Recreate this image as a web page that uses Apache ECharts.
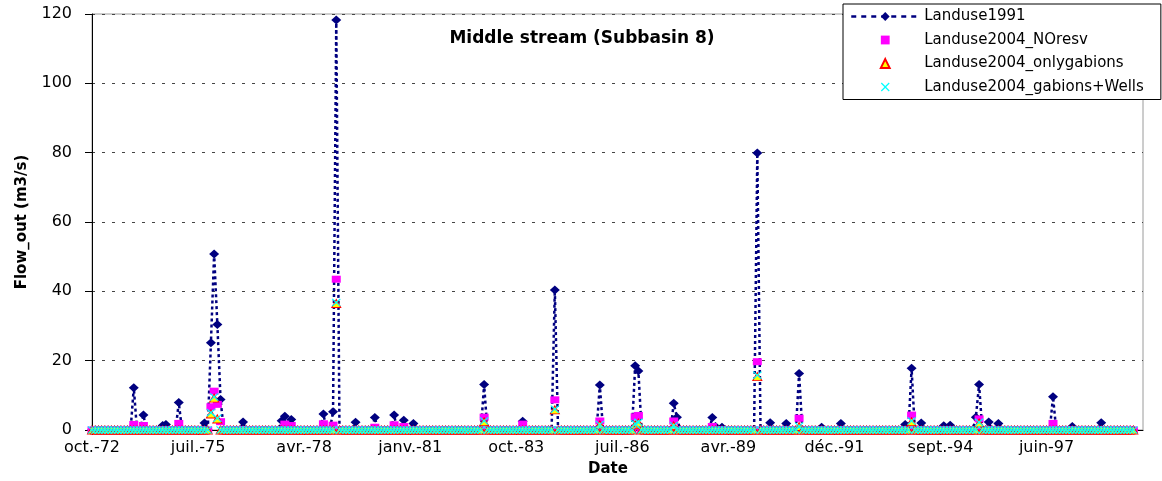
<!DOCTYPE html>
<html><head><meta charset="utf-8">
<script src="https://cdn.jsdelivr.net/npm/echarts@6.0.0/dist/echarts.min.js"></script>
<style>html,body{margin:0;padding:0;background:#fff}#chart{width:1162px;height:481px}</style>
</head><body><div id="chart"></div>
<script>
// ---- axis / category definitions ----
const firstYear = 1972, firstMonth = 10;   // first category (Oct 1972)
const axisMonthCount = 328;                 // Oct 1972 .. Jan 2000 (axis span)
const dataMonthCount = 325;                 // Oct 1972 .. Oct 1999 (data span)
const tickStep = 33;
const tickLabels = ["oct.-72","juil.-75","avr.-78","janv.-81","oct.-83","juil.-86","avr.-89","déc.-91","sept.-94","juin-97"];
const yTicks = [0, 20, 40, 60, 80, 100, 120];

// ---- series values (non-baseline months; other months read as ~0) ----
const landuse1991Dates = ["1973-11","1974-02","1974-08","1974-09","1975-01","1975-09","1975-11","1975-12","1976-01","1976-02",
  "1976-09","1977-09","1977-10","1977-11","1977-12","1978-10","1979-01","1979-02","1979-08","1980-02",
  "1980-08","1980-11","1981-02","1982-12","1983-12","1984-10","1985-12","1986-11","1986-12","1987-11",
  "1987-12","1988-11","1988-12","1989-02","1990-01","1990-05","1990-10","1991-02","1991-09","1992-03",
  "1993-11","1994-01","1994-04","1994-11","1995-01","1995-09","1995-10","1996-01","1996-04","1997-09",
  "1998-03","1998-12"];
const landuse1991Values = [12.2,4.3,1.3,1.6,7.9,2.0,25.2,50.8,30.4,8.8,
  2.3,2.7,4.0,1.5,3.0,4.6,5.3,118.3,2.2,3.6,
  4.3,2.8,1.9,13.1,2.5,40.4,13.0,18.5,17.0,7.7,
  3.7,3.6,1.0,0.8,79.9,2.1,1.9,16.3,0.8,1.9,
  1.6,17.8,2.0,1.2,1.4,3.7,13.1,2.3,1.9,9.6,
  1.0,2.1];

const noResvDates = ["1973-11","1974-02","1975-01","1975-11","1975-12","1976-01","1976-02","1977-10","1977-12","1978-10",
  "1979-01","1979-02","1980-02","1980-08","1980-11","1982-12","1983-12","1984-10","1985-12","1986-11",
  "1986-12","1987-11","1988-11","1990-01","1991-02","1994-01","1995-10","1997-09"];
const noResvValues = [1.6,1.3,1.9,6.7,11.2,7.4,2.4,1.7,1.3,1.8,
  1.4,43.5,0.8,1.5,1.0,3.7,1.7,8.7,2.6,3.8,
  4.2,2.6,1.0,19.7,3.4,4.3,3.2,1.9];

const onlyGabionsDates = ["1975-11","1975-12","1976-01","1979-02","1982-12","1984-10","1985-12","1986-11","1986-12","1987-11",
  "1990-01","1991-02","1994-01","1995-10"];
const onlyGabionsValues = [4.6,9.2,3.2,36.5,2.4,5.8,1.5,1.5,2.0,1.2,
  15.4,1.0,2.4,2.0];

const gabionsWellsDates = ["1975-11","1975-12","1976-01","1979-02","1982-12","1984-10","1985-12","1986-11","1986-12","1987-11",
  "1990-01","1991-02","1994-01","1995-10"];
const gabionsWellsValues = [5.0,9.5,3.4,36.8,2.6,6.0,1.6,1.8,2.2,1.3,
  15.8,1.1,2.6,2.2];

// ---- build categories and full series ----
const categories = [];
for (let i = 0; i < axisMonthCount; i++) {
  const t = firstYear * 12 + (firstMonth - 1) + i;
  const y = Math.floor(t / 12), m = t % 12 + 1;
  categories.push(y + "-" + (m < 10 ? "0" + m : m));
}
function buildSeries(dates, values) {
  const lookup = {};
  dates.forEach((d, i) => { lookup[d] = values[i]; });
  return categories.map((c, i) => i < dataMonthCount ? (lookup[c] !== undefined ? lookup[c] : 0) : '-');
}
const s1991 = buildSeries(landuse1991Dates, landuse1991Values);
const sNoResv = buildSeries(noResvDates, noResvValues);
const sGabions = buildSeries(onlyGabionsDates, onlyGabionsValues);
const sWells = buildSeries(gabionsWellsDates, gabionsWellsValues);

const FONT = "DejaVu Sans";
const xShape = 'path://M0,1L1,0L5,4L9,0L10,1L6,5L10,9L9,10L5,6L1,10L0,9L4,5Z';
const isTick = (i) => i % tickStep === 0 && i / tickStep < tickLabels.length;

const chart = echarts.init(document.getElementById('chart'), null, {renderer: 'canvas'});
chart.setOption({
  animation: false,
  backgroundColor: '#ffffff',
  title: {
    text: 'Middle stream (Subbasin 8)',
    left: 582, top: 30, textAlign: 'center', padding: 0,
    textStyle: {fontFamily: FONT, fontSize: 17, fontWeight: 'bold', color: '#000'}
  },
  legend: {
    orient: 'vertical', left: 843, top: 4,
    padding: [5, 17, 5, 7],
    itemWidth: 68, itemHeight: 11, itemGap: 8.5,
    backgroundColor: '#ffffff', borderColor: '#000', borderWidth: 1, borderRadius: 0,
    textStyle: {fontFamily: FONT, fontSize: 15, color: '#000'},
    data: [
      {name: 'Landuse1991', lineStyle: {type: [5, 5], width: 2.5, color: '#000080'}},
      {name: 'Landuse2004_NOresv'},
      {name: 'Landuse2004_onlygabions'},
      {name: 'Landuse2004_gabions+Wells'}
    ]
  },
  grid: {left: 92, right: 19, top: 14, bottom: 51, show: true, borderColor: '#9a9a9a', borderWidth: 1, containLabel: false, outerBoundsMode: 'none'},
  xAxis: {
    type: 'category', data: categories, boundaryGap: false,
    name: 'Date', nameLocation: 'middle', nameGap: 32,
    nameTextStyle: {fontFamily: FONT, fontSize: 15, fontWeight: 'bold', color: '#000', padding: [0, 19, 0, 0]},
    axisLine: {lineStyle: {color: '#000', width: 1}},
    axisTick: {show: true, interval: (i) => isTick(i), length: 5, inside: false, lineStyle: {color: '#000'}},
    axisLabel: {interval: (i) => isTick(i), formatter: (v, i) => tickLabels[i / tickStep], margin: 10,
      fontFamily: FONT, fontSize: 16, color: '#000', hideOverlap: false},
    splitLine: {show: false}
  },
  yAxis: {
    type: 'value', min: yTicks[0], max: yTicks[yTicks.length - 1], interval: yTicks[1] - yTicks[0],
    name: 'Flow_out (m3/s)', nameLocation: 'middle', nameGap: 62,
    nameTextStyle: {fontFamily: FONT, fontSize: 15, fontWeight: 'bold', color: '#000'},
    axisLine: {show: true, lineStyle: {color: '#000', width: 1}},
    axisTick: {show: true, length: 7, lineStyle: {color: '#000'}},
    axisLabel: {margin: 20, fontFamily: FONT, fontSize: 16, color: '#000'},
    splitLine: {show: true, lineStyle: {color: '#444', type: [3, 7], width: 1}}
  },
  series: [
    {
      name: 'Landuse1991', type: 'line', data: s1991, showAllSymbol: true,
      symbol: 'diamond', symbolSize: [10, 9],
      itemStyle: {color: '#000080'},
      lineStyle: {color: '#000080', width: 2.5, type: [3, 3]},
      emphasis: {disabled: true}
    },
    {
      name: 'Landuse2004_NOresv', type: 'line', data: sNoResv, showAllSymbol: true,
      symbol: 'rect', symbolSize: [9, 7],
      itemStyle: {color: '#FF00FF'},
      lineStyle: {width: 0, opacity: 0},
      emphasis: {disabled: true}
    },
    {
      name: 'Landuse2004_onlygabions', type: 'line', data: sGabions, showAllSymbol: true,
      symbol: 'triangle', symbolSize: [9, 8],
      itemStyle: {color: '#FFFF00', borderColor: '#FF0000', borderWidth: 1},
      lineStyle: {width: 0, opacity: 0},
      emphasis: {disabled: true}
    },
    {
      name: 'Landuse2004_gabions+Wells', type: 'line', data: sWells, showAllSymbol: true,
      symbol: xShape, symbolSize: [9, 8],
      itemStyle: {color: '#00FFFF'},
      lineStyle: {width: 0, opacity: 0},
      emphasis: {disabled: true}
    }
  ]
});
</script>
</body></html>
